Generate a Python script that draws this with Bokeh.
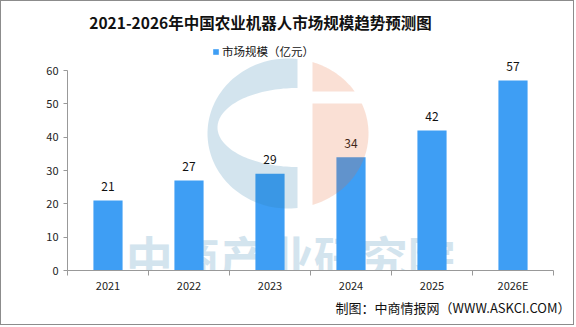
import numpy as np
from bokeh.plotting import figure
from bokeh.models import (ColumnDataSource, Range1d, FixedTicker, Legend,
                          LegendItem, Label, Title)
from bokeh.core.properties import value
from bokeh.embed import file_html
from bokeh.resources import INLINE

# ---- data ----
years = ["2021", "2022", "2023", "2024", "2025", "2026E"]
market_size = [21, 27, 29, 34, 42, 57]
y_ticks = [0, 10, 20, 30, 40, 50, 60]

title_text = "2021-2026年中国农业机器人市场规模趋势预测图"
series_name = "市场规模（亿元）"
source_text = "制图：中商情报网（WWW.ASKCI.COM）"
watermark_text = "中商产业研究院"

# ---- style ----
FONT = "Noto Sans CJK SC"
BAR_COLOR = "#3E9EF4"
AXIS_COLOR = "#999999"
W, H = 574, 325                  # inside a 1px frame border
LEFT, RIGHT, BOTTOM = 66, 22, 56
AXIS_H = 200                     # pixel height of the 0..60 value axis
Y_MAX = 60
n = len(years)
slot_centers = [i + 0.5 for i in range(n)]   # one unit-wide slot per year

# the frame runs up to the top edge so title, legend and labels are not clipped;
# the value axis itself only spans 0..60
y_top = Y_MAX * (H - BOTTOM) / AXIS_H

p = figure(width=W, height=H,
           x_range=Range1d(0, n), y_range=Range1d(0, y_top),
           output_backend="svg", toolbar_location=None,
           min_border_left=LEFT, min_border_right=RIGHT,
           min_border_top=0, min_border_bottom=BOTTOM)
p.styles = {"border": "1px solid #8C8C8C"}
p.outline_line_color = None
p.grid.visible = False
p.background_fill_color = "white"
p.border_fill_color = "white"

# ---- y axis ----
ya = p.yaxis[0]
ya.ticker = FixedTicker(ticks=y_ticks)
ya.bounds = (0, Y_MAX)
ya.axis_line_color = AXIS_COLOR
ya.major_tick_line_color = AXIS_COLOR
ya.major_tick_out = 4
ya.major_tick_in = 0
ya.minor_tick_line_color = None
ya.major_label_standoff = 5
ya.major_label_text_font = FONT
ya.major_label_text_font_size = "11px"
ya.major_label_text_color = "#222222"

# ---- x axis: labels at slot centres, ticks at slot edges ----
xa = p.xaxis[0]
xa.ticker = FixedTicker(ticks=slot_centers, minor_ticks=list(range(n + 1)))
xa.major_label_overrides = {c: y for c, y in zip(slot_centers, years)}
xa.axis_line_color = AXIS_COLOR
xa.major_tick_line_color = None
xa.major_tick_out = 0
xa.major_tick_in = 0
xa.minor_tick_line_color = AXIS_COLOR
xa.minor_tick_out = 5
xa.minor_tick_in = 0
xa.major_label_standoff = 1
xa.major_label_text_font = FONT
xa.major_label_text_font_size = "11px"
xa.major_label_text_color = "#222222"

# ---- watermark text (sits behind the bars) ----
p.text(x=[2.75], y=[4.6], text=[watermark_text],
       text_font=value(FONT), text_font_style="bold", text_font_size="47px",
       text_color="#D3E4EE", text_align="center", text_baseline="middle")

# ---- bars and value labels ----
src = ColumnDataSource(dict(x=slot_centers, year=years, size=market_size,
                            label=[str(v) for v in market_size]))
bars = p.vbar(x="x", top="size", width=0.36, source=src,
              fill_color=BAR_COLOR, line_color=None)
p.text(x="x", y="size", text="label", source=src,
       text_align="center", text_baseline="middle", y_offset=-14,
       text_font=value(FONT), text_font_size="12px", text_color="#111111")

# ---- translucent logo drawn over the plot ----
fx0, fy0 = 1 + LEFT, 1 + H - BOTTOM          # frame origin in page pixels
slot_px = (W - LEFT - RIGHT) / n
unit_px = AXIS_H / Y_MAX


def to_data(px, py):
    px, py = np.asarray(px, float), np.asarray(py, float)
    return list((px - fx0) / slot_px), list((fy0 - py) / unit_px)


def arc(cx, cy, rx, ry, t0, t1, k=90):
    t = np.linspace(t0, t1, k)
    return cx + rx * np.cos(t), cy - ry * np.sin(t)


cx, cy, rx, ry = 287.5, 133.0, 80.5, 75.0
gap_l, gap_r = 297.0, 312.0
# blue "C": left part of the disc with a half-ellipse notch
tl = np.arccos((gap_l - cx) / rx)
ox, oy = arc(cx, cy, rx, ry, tl, 2 * np.pi - tl)
nx, ny = arc(gap_l, 127.0, 80.0, 39.5, 1.5 * np.pi, 0.5 * np.pi)
blue_x, blue_y = to_data(np.concatenate([ox, nx]), np.concatenate([oy, ny]))
# orange: right part of the disc split by a horizontal band
tr = np.arccos((gap_r - cx) / rx)
band_top, band_bot = 91.0, 103.0
ta = np.arcsin((cy - band_top) / ry)
tb = np.arcsin((cy - band_bot) / ry)
ax_, ay_ = arc(cx, cy, rx, ry, tr, ta, 40)
o1x, o1y = to_data(np.append(ax_, gap_r), np.append(ay_, band_top))
bx_, by_ = arc(cx, cy, rx, ry, tb, -tr, 60)
o2x, o2y = to_data(np.insert(bx_, 0, gap_r), np.insert(by_, 0, band_bot))

p.patches(xs=[blue_x, o1x, o2x], ys=[blue_y, o1y, o2y],
          fill_color=["#3080B0", "#E96E39", "#E96E39"], fill_alpha=0.21,
          line_color=None)

# ---- legend ----
legend = Legend(items=[LegendItem(label=series_name, renderers=[bars])],
                location=(145, 211), orientation="horizontal",
                glyph_width=7, glyph_height=7, label_standoff=3,
                padding=0, margin=0, spacing=0, label_height=14,
                border_line_color=None, background_fill_alpha=0,
                label_text_font=FONT, label_text_font_size="11.5px",
                label_text_color="#111111")
p.add_layout(legend)

# ---- title ----
p.add_layout(Label(x=193, y=249, x_units="screen", y_units="screen",
                   text=title_text, text_align="center", text_baseline="middle",
                   text_font=FONT, text_font_size="15.5px",
                   text_font_style="bold", text_color="#111111"))

# ---- source note under the axis ----
p.add_layout(Title(text=source_text, align="right", offset=-17, standoff=1,
                   text_font=FONT, text_font_size="13px",
                   text_font_style="normal", text_color="#111111"), "below")

open("out.html", "w").write(file_html(p, INLINE))
